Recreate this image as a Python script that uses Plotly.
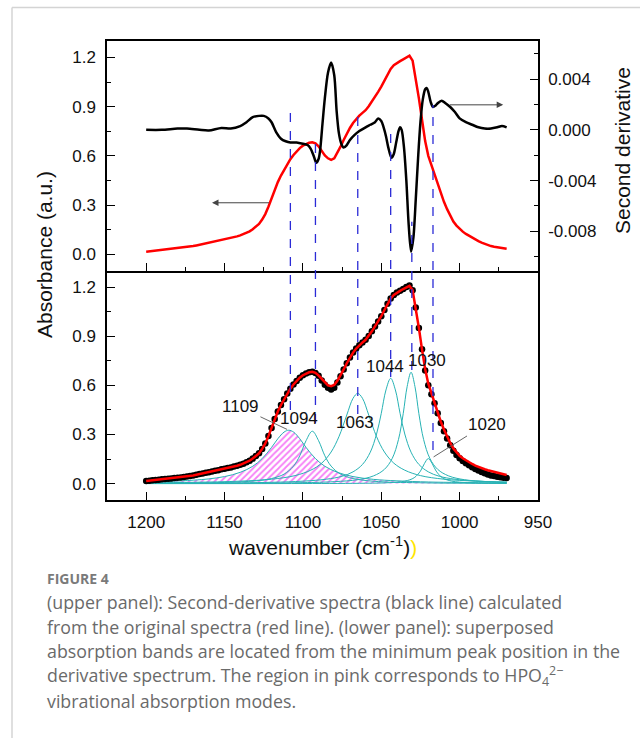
import plotly.graph_objects as go

# ---------------- data ----------------
wn_data = list(range(1200, 968, -2))  # measured spectrum sampling grid (cm-1)
absorbance = [
    0.016, 0.018, 0.020, 0.022, 0.024, 0.026, 0.028, 0.030, 0.032, 0.034,
    0.036, 0.038, 0.041, 0.044, 0.047, 0.050, 0.054, 0.058, 0.062, 0.066,
    0.070, 0.074, 0.078, 0.082, 0.087, 0.091, 0.095, 0.099, 0.104, 0.109,
    0.115, 0.122, 0.130, 0.140, 0.153, 0.168, 0.185, 0.212, 0.245, 0.290,
    0.340, 0.395, 0.440, 0.480, 0.515, 0.550, 0.580, 0.605, 0.627, 0.647,
    0.662, 0.673, 0.680, 0.683, 0.676, 0.658, 0.630, 0.603, 0.585, 0.575,
    0.585, 0.618, 0.656, 0.697, 0.735, 0.770, 0.800, 0.825, 0.845, 0.862,
    0.878, 0.902, 0.930, 0.960, 0.990, 1.022, 1.060, 1.098, 1.130, 1.152,
    1.167, 1.177, 1.188, 1.200, 1.210, 1.180, 1.075, 0.950, 0.820, 0.690,
    0.600, 0.545, 0.490, 0.430, 0.370, 0.320, 0.275, 0.235, 0.200, 0.175,
    0.155, 0.138, 0.124, 0.112, 0.100, 0.090, 0.080, 0.071, 0.063, 0.056,
    0.050, 0.046, 0.042, 0.039, 0.036, 0.034,
]
fit_curve = [
    0.016, 0.018, 0.020, 0.022, 0.024, 0.026, 0.028, 0.030, 0.032, 0.034,
    0.036, 0.038, 0.041, 0.044, 0.047, 0.050, 0.054, 0.058, 0.062, 0.066,
    0.070, 0.074, 0.078, 0.082, 0.087, 0.091, 0.095, 0.099, 0.104, 0.109,
    0.115, 0.122, 0.130, 0.140, 0.153, 0.168, 0.185, 0.212, 0.245, 0.290,
    0.340, 0.395, 0.440, 0.480, 0.515, 0.550, 0.580, 0.605, 0.627, 0.647,
    0.662, 0.673, 0.680, 0.683, 0.676, 0.660, 0.640, 0.615, 0.600, 0.595,
    0.603, 0.628, 0.660, 0.697, 0.735, 0.770, 0.800, 0.825, 0.845, 0.862,
    0.878, 0.902, 0.930, 0.960, 0.990, 1.022, 1.060, 1.098, 1.130, 1.152,
    1.167, 1.177, 1.188, 1.200, 1.208, 1.180, 1.075, 0.950, 0.820, 0.700,
    0.610, 0.550, 0.495, 0.435, 0.378, 0.330, 0.285, 0.248, 0.215, 0.190,
    0.170, 0.155, 0.142, 0.130, 0.120, 0.110, 0.101, 0.094, 0.088, 0.082,
    0.077, 0.072, 0.068, 0.063, 0.058, 0.053,
]

wn_deriv = [1200, 1190, 1180, 1174, 1166, 1160, 1152, 1146, 1140, 1136, 1132, 1128,
            1125, 1122, 1120, 1117, 1114, 1111, 1108, 1104, 1100, 1097, 1095, 1093,
            1091.5, 1090, 1089, 1087.5, 1086, 1084, 1082, 1080, 1078.5, 1077, 1075.5,
            1074, 1072, 1070, 1067, 1064, 1060, 1057, 1054, 1052, 1050, 1048.5, 1047,
            1045.5, 1043.5, 1042, 1040.5, 1039, 1038, 1037, 1035.5, 1034, 1032.5, 1031,
            1029.5, 1028, 1026.5, 1025, 1023.5, 1022, 1021, 1020, 1018.5, 1017, 1015.5,
            1014, 1011.5, 1009, 1006, 1003, 1000, 996, 992, 988, 984, 980, 976, 973, 970]
second_deriv = [0.0000, 0.0000, 0.0001, 0.0001, 0.0000, -0.00005, 0.00015, 0.0001, 0.0003,
                0.0006, 0.0010, 0.0011, 0.0011, 0.0009, 0.0006, -0.0002, -0.0007, -0.0009,
                -0.0010, -0.0010, -0.0011, -0.0012, -0.0015, -0.0021, -0.0026, -0.0023,
                -0.0016, 0.0005, 0.0025, 0.0045, 0.0053, 0.0043, 0.0015, -0.0003, -0.0011,
                -0.0014, -0.0012, -0.0008, -0.0004, -0.0001, 0.0002, 0.0004, 0.0006, 0.0009,
                0.0007, 0.0002, -0.0005, -0.0014, -0.0022, -0.0019, -0.0010, -0.0001, 0.0002,
                0.0000, -0.0014, -0.0040, -0.0075, -0.0096, -0.0085, -0.0055, -0.0022, 0.0006,
                0.0024, 0.0032, 0.0033, 0.0030, 0.0022, 0.0018, 0.0019, 0.0021, 0.0023,
                0.0021, 0.0018, 0.0014, 0.0009, 0.0006, 0.0004, 0.0002, 0.0001, 0.0001,
                0.0002, 0.0003, 0.0002]

deriv_minima = [1108, 1092, 1065, 1044, 1030.5, 1017]

# fitted bands (wavenumber, absorbance)
band_1109_wn = [1200, 1185, 1170, 1160, 1150, 1140, 1132, 1126, 1120, 1116, 1112, 1109,
                1106, 1102, 1098, 1092, 1086, 1078, 1068, 1055, 1040, 1020, 1000, 970]
band_1109 = [0.010, 0.014, 0.021, 0.029, 0.043, 0.069, 0.106, 0.153, 0.221, 0.274, 0.315,
             0.326, 0.315, 0.274, 0.221, 0.153, 0.106, 0.069, 0.043, 0.026, 0.017, 0.010,
             0.007, 0.004]
band_1094_wn = [1200, 1170, 1150, 1130, 1120, 1112, 1106, 1102, 1098, 1094, 1090, 1086,
                1082, 1076, 1068, 1058, 1045, 1030, 1010, 990, 970]
band_1094 = [0.002, 0.004, 0.007, 0.017, 0.031, 0.058, 0.107, 0.170, 0.262, 0.320, 0.262,
             0.170, 0.107, 0.058, 0.031, 0.017, 0.009, 0.006, 0.003, 0.002, 0.0015]
band_1063_wn = [1200, 1170, 1140, 1120, 1105, 1095, 1088, 1082, 1077, 1072, 1068, 1065,
                1062, 1058, 1053, 1048, 1042, 1035, 1025, 1010, 990, 970]
band_1063 = [0.005, 0.008, 0.015, 0.027, 0.049, 0.082, 0.125, 0.193, 0.287, 0.419, 0.521,
             0.551, 0.521, 0.419, 0.287, 0.193, 0.125, 0.082, 0.049, 0.027, 0.015, 0.009]
band_1044_wn = [1200, 1160, 1120, 1100, 1085, 1075, 1068, 1062, 1057, 1053, 1050, 1047,
                1044, 1041, 1038, 1035, 1031, 1026, 1020, 1013, 1003, 990, 970]
band_1044 = [0.002, 0.003, 0.008, 0.015, 0.027, 0.045, 0.072, 0.117, 0.192, 0.303, 0.429,
             0.572, 0.643, 0.572, 0.429, 0.303, 0.192, 0.117, 0.072, 0.045, 0.027, 0.016,
             0.008]
band_1030_wn = [1200, 1150, 1100, 1080, 1065, 1055, 1048, 1043, 1039, 1036, 1033.5, 1031,
                1028.5, 1026, 1023, 1019, 1014, 1007, 997, 982, 970]
band_1030 = [0.001, 0.002, 0.006, 0.012, 0.024, 0.047, 0.087, 0.154, 0.270, 0.427, 0.592,
             0.680, 0.592, 0.427, 0.270, 0.154, 0.087, 0.047, 0.024, 0.012, 0.008]
band_1020_wn = [1200, 1100, 1060, 1045, 1035, 1029, 1025, 1022.5, 1020, 1017.5, 1015,
                1011, 1005, 995, 980, 970]
band_1020 = [0.0001, 0.0006, 0.0024, 0.0059, 0.0153, 0.036, 0.0765, 0.122, 0.153, 0.122,
             0.0765, 0.036, 0.0153, 0.0059, 0.0024, 0.0015]

band_labels = ["1109", "1094", "1063", "1044", "1030", "1020"]
band_label_pos = [(1140, 0.469), (1102.7, 0.398), (1066.5, 0.371), (1047.4, 0.714),
                  (1020.8, 0.751), (982.5, 0.363)]

x_ticks = [1200, 1150, 1100, 1050, 1000, 950]
x_minor = [1175, 1125, 1075, 1025, 975]
abs_ticks = [0.0, 0.3, 0.6, 0.9, 1.2]
abs_minor = [0.15, 0.45, 0.75, 1.05]
der_ticks = [-0.008, -0.004, 0.0, 0.004]
der_ticktext = ["-0.008", "-0.004", "0.000", "0.004"]
der_minor = [-0.010, -0.006, -0.002, 0.002, 0.006]

# ---------------- figure ----------------
W, H = 640, 738
XD = [107 / W, 538 / W]
Y_LOW = [1 - 500 / H, 1 - 270.7 / H]
Y_TOP = [1 - 270.7 / H, 1 - 41 / H]

FONT = "Liberation Sans, Arial, sans-serif"
CYAN = "#27b2b4"

fig = go.Figure()

# upper panel
fig.add_trace(go.Scatter(x=wn_data, y=absorbance, xaxis="x2", yaxis="y2", mode="lines",
                         line=dict(color="#ff0000", width=2.5)))
fig.add_trace(go.Scatter(x=wn_deriv, y=second_deriv, xaxis="x2", yaxis="y3", mode="lines",
                         line=dict(color="#000000", width=2.5, shape="spline", smoothing=0.8)))

# lower panel: bands
bands = [(band_1109_wn, band_1109), (band_1094_wn, band_1094), (band_1063_wn, band_1063),
         (band_1044_wn, band_1044), (band_1030_wn, band_1030), (band_1020_wn, band_1020)]
for i, (bx, by) in enumerate(bands):
    kw = {}
    if i == 0:
        kw = dict(fill="tozeroy", fillcolor="rgba(0,0,0,0)",
                  fillpattern=dict(shape="/", fgcolor="#ee00ee", bgcolor="rgba(0,0,0,0)",
                                   size=4.5, solidity=0.4))
    fig.add_trace(go.Scatter(x=bx, y=by, xaxis="x", yaxis="y", mode="lines",
                             line=dict(color=CYAN, width=1, shape="spline", smoothing=1.0), **kw))

fig.add_trace(go.Scatter(x=wn_data, y=absorbance, xaxis="x", yaxis="y", mode="markers",
                         marker=dict(color="#000000", size=6.5)))
fig.add_trace(go.Scatter(x=wn_data, y=fit_curve, xaxis="x", yaxis="y", mode="lines",
                         line=dict(color="#ff0000", width=2.5)))

# dashed lines marking second-derivative minima (vertical extent is styling)
dash_top_px = [106.7, 140, 115, 126.7, 221.7, 105]
dash_bot_px = [410, 423, 414, 377, 370, 450]
shapes = []
for wn, t, b in zip(deriv_minima, dash_top_px, dash_bot_px):
    shapes.append(dict(type="line", xref="x", yref="paper", x0=wn, x1=wn,
                       y0=1 - b / H, y1=1 - t / H,
                       line=dict(color="#2b2bd6", width=1.3, dash="dash")))

# leader lines for labels
shapes.append(dict(type="line", xref="x", yref="y", x0=1127.1, y0=0.408, x1=1110.1, y1=0.331,
                   line=dict(color="#555555", width=0.9)))
shapes.append(dict(type="line", xref="x", yref="y", x0=995.3, y0=0.291, x1=1016.6, y1=0.163,
                   line=dict(color="#555555", width=0.9)))

# page frame
shapes.append(dict(type="line", xref="paper", yref="paper", x0=12 / W, x1=1, y0=1 - 7.5 / H,
                   y1=1 - 7.5 / H, line=dict(color="#d4d4d4", width=1.5)))
shapes.append(dict(type="line", xref="paper", yref="paper", x0=12 / W, x1=12 / W, y0=0,
                   y1=1 - 7.5 / H, line=dict(color="#d4d4d4", width=1.5)))

annotations = []
for lab, (lx, ly) in zip(band_labels, band_label_pos):
    annotations.append(dict(x=lx, y=ly, xref="x", yref="y", text=lab, showarrow=False,
                            xanchor="center", yanchor="middle",
                            font=dict(family=FONT, size=17, color="#111111")))

# arrows pointing to axes
annotations.append(dict(x=1158, y=0.314, xref="x2", yref="y2", ax=1120.7, ay=0.314,
                        axref="x2", ayref="y2", text="", showarrow=True, arrowhead=2,
                        arrowsize=1.3, arrowwidth=1, arrowcolor="#444444"))
annotations.append(dict(x=972.2, y=0.00197, xref="x2", yref="y3", ax=1007.2, ay=0.00197,
                        axref="x2", ayref="y3", text="", showarrow=True, arrowhead=2,
                        arrowsize=1.3, arrowwidth=1, arrowcolor="#444444"))

# axis titles
annotations.append(dict(x=45 / W, y=1 - 255 / H, xref="paper", yref="paper",
                        xanchor="center", yanchor="middle",
                        text="Absorbance (a.u.)", textangle=-90, showarrow=False,
                        font=dict(family=FONT, size=21, color="#111111")))
annotations.append(dict(x=622 / W, y=1 - 151 / H, xref="paper", yref="paper",
                        xanchor="center", yanchor="middle",
                        text="Second derivative", textangle=-90, showarrow=False,
                        font=dict(family=FONT, size=21, color="#111111")))
annotations.append(dict(x=322 / W, y=1 - 546 / H, xref="paper", yref="paper",
                        xanchor="center", yanchor="middle",
                        text="wavenumber (cm<sup>-1</sup>)<span style='color:#ffe600'>)</span>",
                        showarrow=False, font=dict(family=FONT, size=21, color="#111111")))

# caption
CAP_FONT = "Open Sans, Noto Sans, sans-serif"
annotations.append(dict(x=45 / W, y=1 - 578 / H, xref="paper", yref="paper", xanchor="left",
                        yanchor="middle", text="<b>FIGURE 4</b>", showarrow=False,
                        font=dict(family=CAP_FONT, size=14, color="#7a7a7a")))
caption_lines = [
    "(upper panel): Second-derivative spectra (black line) calculated",
    "from the original spectra (red line). (lower panel): superposed",
    "absorption bands are located from the minimum peak position in the",
    "derivative spectrum. The region in pink corresponds to HPO<sub>4</sub><sup>2\u2212</sup>",
    "vibrational absorption modes.",
]
for i, line in enumerate(caption_lines):
    annotations.append(dict(x=45 / W, y=1 - (602 + 24.7 * i) / H, xref="paper", yref="paper",
                            xanchor="left", yanchor="middle", text=line, showarrow=False,
                            font=dict(family=CAP_FONT, size=17.8, color="#6a6a6a")))

tick_common = dict(ticks="inside", tickcolor="#000000", tickwidth=1.3, showgrid=False,
                   zeroline=False, showline=True, linecolor="#000000", linewidth=1.5,
                   automargin=False, tickfont=dict(family=FONT, size=17, color="#111111"))

fig.update_layout(
    width=W, height=H, margin=dict(l=0, r=0, t=0, b=0),
    paper_bgcolor="white", plot_bgcolor="white", showlegend=False,
    font=dict(family=FONT, size=17, color="#111111"),
    xaxis=dict(domain=XD, anchor="y", range=[1225, 950], tickmode="array", tickvals=x_ticks,
               ticklen=8, mirror=False, ticklabelstandoff=6,
               minor=dict(tickvals=x_minor, ticks="inside", ticklen=4, tickcolor="#000000",
                          tickwidth=1.3, showgrid=False), **tick_common),
    xaxis2=dict(domain=XD, anchor="y2", range=[1225, 950], tickmode="array", tickvals=x_ticks,
                ticklen=8, mirror=True, showticklabels=False,
                minor=dict(tickvals=x_minor, ticks="inside", ticklen=4, tickcolor="#000000",
                           tickwidth=1.3, showgrid=False), **tick_common),
    yaxis=dict(domain=Y_LOW, anchor="x", range=[-0.1, 1.3], tickmode="array",
               tickvals=abs_ticks, ticktext=["%.1f" % v for v in abs_ticks], ticklen=8,
               mirror=True, ticklabelstandoff=6,
               minor=dict(tickvals=abs_minor, ticks="inside", ticklen=4, tickcolor="#000000",
                          tickwidth=1.3, showgrid=False), **tick_common),
    yaxis2=dict(domain=Y_TOP, anchor="x2", range=[-0.1, 1.3], tickmode="array",
                tickvals=abs_ticks, ticktext=["%.1f" % v for v in abs_ticks], ticklen=8,
                ticklabelstandoff=6,
                minor=dict(tickvals=abs_minor, ticks="inside", ticklen=4, tickcolor="#000000",
                           tickwidth=1.3, showgrid=False), **tick_common),
    yaxis3=dict(overlaying="y2", anchor="x2", side="right", range=[-0.0111, 0.0070],
                tickmode="array", tickvals=der_ticks, ticktext=der_ticktext, ticklen=8,
                ticklabelstandoff=5,
                minor=dict(tickvals=der_minor, ticks="inside", ticklen=4, tickcolor="#000000",
                           tickwidth=1.3, showgrid=False), **tick_common),
    shapes=shapes, annotations=annotations,
)

fig.write_html("out.html")
